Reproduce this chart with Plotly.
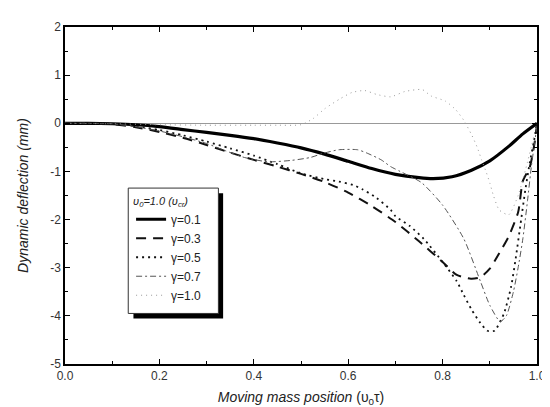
import plotly.graph_objects as go

# ---------------- data ----------------
x_g01 = [0, 0.05, 0.1, 0.15, 0.2, 0.25, 0.3, 0.35, 0.4, 0.45, 0.5, 0.55, 0.6, 0.65, 0.7,
         0.75, 0.78, 0.82, 0.86, 0.9, 0.94, 0.97, 1.0]
y_g01 = [0, 0, -0.01, -0.03, -0.07, -0.13, -0.19, -0.25, -0.32, -0.41, -0.51, -0.64, -0.79,
         -0.94, -1.06, -1.13, -1.15, -1.11, -0.98, -0.78, -0.48, -0.22, 0]

x_g03 = [0, 0.05, 0.1, 0.15, 0.2, 0.25, 0.3, 0.35, 0.4, 0.45, 0.5, 0.55, 0.6, 0.65, 0.7,
         0.75, 0.8, 0.83, 0.86, 0.88, 0.9, 0.92, 0.94, 0.96, 0.97, 0.985, 0.995, 1.0]
y_g03 = [0, 0, -0.02, -0.08, -0.18, -0.3, -0.45, -0.61, -0.76, -0.9, -1.05, -1.22, -1.44,
         -1.72, -2.05, -2.45, -2.88, -3.15, -3.23, -3.2, -3.02, -2.7, -2.35, -1.85, -1.2,
         -0.9, -0.4, 0]

x_g05 = [0, 0.05, 0.1, 0.15, 0.2, 0.25, 0.3, 0.35, 0.4, 0.45, 0.5, 0.55, 0.58, 0.61, 0.63,
         0.66, 0.69, 0.7, 0.73, 0.76, 0.8, 0.83, 0.845, 0.862, 0.88, 0.895, 0.91, 0.93,
         0.945, 0.955, 0.965, 0.975, 0.985, 0.993, 1.0]
y_g05 = [0, 0, -0.01, -0.06, -0.14, -0.25, -0.38, -0.52, -0.67, -0.85, -1.04, -1.16,
         -1.21, -1.28, -1.37, -1.55, -1.8, -1.93, -2.13, -2.4, -2.88, -3.28, -3.57, -3.88,
         -4.15, -4.31, -4.31, -3.95, -3.4, -2.8, -2.1, -1.4, -0.8, -0.4, 0]

x_g07 = [0, 0.05, 0.1, 0.15, 0.2, 0.25, 0.3, 0.34, 0.38, 0.43, 0.48, 0.52, 0.545, 0.58,
         0.62, 0.64, 0.67, 0.69, 0.71, 0.755, 0.8, 0.845, 0.88, 0.9, 0.922, 0.935, 0.95,
         0.96, 0.97, 0.98, 0.988, 0.995, 1.0]
y_g07 = [0, 0, -0.01, -0.07, -0.16, -0.28, -0.42, -0.57, -0.71, -0.8, -0.77, -0.71,
         -0.63, -0.55, -0.55, -0.62, -0.76, -0.9, -1.0, -1.23, -1.7, -2.4, -3.28, -3.78,
         -4.12, -4.0, -3.5, -3.0, -2.4, -1.6, -0.9, -0.4, -0.05]

x_g10 = [0, 0.1, 0.2, 0.3, 0.4, 0.45, 0.5, 0.526, 0.55, 0.583, 0.608, 0.635, 0.66, 0.69,
         0.72, 0.757, 0.775, 0.806, 0.828, 0.845, 0.862, 0.873, 0.883, 0.893, 0.9, 0.908,
         0.92, 0.94, 0.96, 0.98, 1.0]
y_g10 = [0, -0.01, -0.03, -0.04, -0.04, -0.04, -0.03, 0.1, 0.3, 0.51, 0.64, 0.68, 0.6,
         0.55, 0.66, 0.7, 0.57, 0.46, 0.28, 0.06, -0.25, -0.49, -0.77, -1.03, -1.24, -1.51,
         -1.8, -1.9, -1.5, -0.8, 0]

series_names = ["γ=0.1", "γ=0.3", "γ=0.5", "γ=0.7", "γ=1.0"]
x_ticks = [0.0, 0.2, 0.4, 0.6, 0.8, 1.0]
x_tick_labels = ["0.0", "0.2", "0.4", "0.6", "0.8", "1.0"]
y_ticks = [-5, -4, -3, -2, -1, 0, 1, 2]
y_tick_labels = ["-5", "-4", "-3", "-2", "-1", "0", "1", "2"]

# ---------------- figure ----------------
styles = [
    dict(color="#000000", width=3.2, dash="solid"),
    dict(color="#111111", width=2, dash="10px,7px"),
    dict(color="#111111", width=1.8, dash="2px,4px"),
    dict(color="#555555", width=1, dash="6px,3px,2px,3px"),
    dict(color="#999999", width=1, dash="1px,4px"),
]
xs = [x_g01, x_g03, x_g05, x_g07, x_g10]
ys = [y_g01, y_g03, y_g05, y_g07, y_g10]

fig = go.Figure()
for name, xv, yv, st in zip(series_names, xs, ys, styles):
    fig.add_trace(go.Scatter(x=xv, y=yv, mode="lines", name=name,
                             line=dict(shape="spline", smoothing=0.6, **st)))

font_family = "Liberation Sans, Arial, sans-serif"
axis_common = dict(
    showline=True, linecolor="black", linewidth=1.5, mirror="ticks",
    ticks="inside", ticklen=5, tickwidth=1, tickcolor="black",
    showgrid=False, tickfont=dict(family=font_family, size=12, color="#333333"),
)

fig.update_layout(
    width=550, height=407,
    margin=dict(l=57, r=16, t=15, b=51),
    paper_bgcolor="white", plot_bgcolor="white",
    font=dict(family=font_family, color="#222222"),
    xaxis=dict(range=[0, 1], tickvals=x_ticks, ticktext=x_tick_labels,
               minor=dict(ticks="inside", tickvals=[0.1, 0.3, 0.5, 0.7, 0.9], ticklen=3, tickcolor="black"),
               zeroline=False,
               title=dict(text="<i>Moving mass position</i> (υ<sub>0</sub>τ)", font=dict(size=14), standoff=10),
               **axis_common),
    yaxis=dict(range=[-5, 2], tickvals=y_ticks, ticktext=y_tick_labels,
               minor=dict(ticks="inside", dtick=0.5, ticklen=3, tickcolor="black"),
               zeroline=True, zerolinecolor="#999999", zerolinewidth=1,
               title=dict(text="<i>Dynamic deflection (mm)</i>", font=dict(size=14), standoff=18),
               **axis_common),
    showlegend=True,
    legend=dict(x=0.14, y=0.515, xanchor="left", yanchor="top",
                bgcolor="rgba(0,0,0,0)", borderwidth=0,
                font=dict(size=12, family=font_family, color="#222222"),
                title=dict(text="<i>υ<sub>0</sub>=1.0 (υ<sub>cr</sub>)</i>", font=dict(size=11)),
                tracegroupgap=0, itemwidth=30),
)

# legend frame with drop shadow (Origin style)
fig.add_shape(type="rect", xref="paper", yref="paper", x0=0.145, x1=0.335, y0=0.135, y1=0.507,
              fillcolor="black", line=dict(width=0), layer="above")
fig.add_shape(type="rect", xref="paper", yref="paper", x0=0.134, x1=0.325, y0=0.15, y1=0.522,
              fillcolor="white", line=dict(color="#333333", width=1), layer="above")

fig.write_html("out.html")
